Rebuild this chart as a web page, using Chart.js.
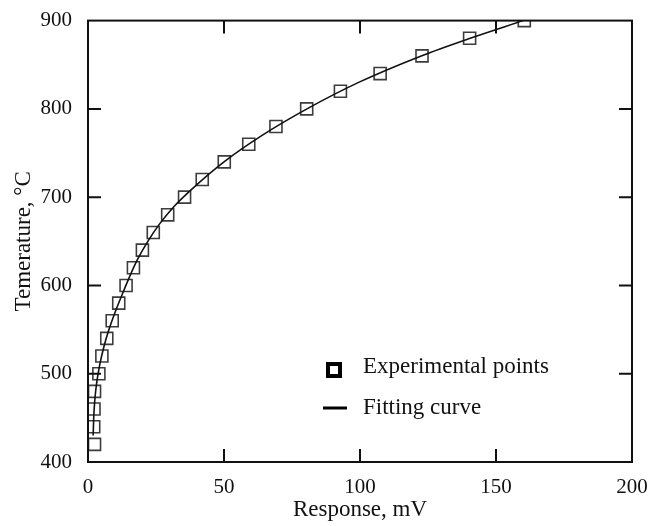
<!DOCTYPE html>
<html lang="en">
  <head>
    <meta charset="utf-8">
    <style>
      html, body { margin: 0; padding: 0; background: #fff; }
      #wrap { width: 668px; height: 526px; }
    </style>
  </head>
  <body>
    <div id="wrap">
      <canvas id="myChart" width="668" height="526"></canvas>
    </div>
    <script src="https://cdn.jsdelivr.net/npm/chart.js"></script>
    <script>
      // experimental points
      const pointTemps = [420, 440, 460, 480, 500, 520, 540, 560, 580, 600, 620, 640, 660, 680, 700, 720, 740, 760, 780, 800, 820, 840, 860, 880, 900];
      const pointMv = [2.4, 2.1, 2.2, 2.4, 4.0, 5.1, 6.9, 8.9, 11.3, 14.0, 16.7, 20.0, 24.0, 29.3, 35.5, 42.0, 50.1, 59.1, 69.1, 80.4, 92.8, 107.4, 122.8, 140.3, 160.4];

      // fitting curve
      const curveTemps = [430, 450, 470, 490, 510, 530, 550, 570, 590, 610, 630, 650, 670, 690, 710, 740, 770, 800, 830, 860, 880, 900];
      const curveMv = [1.9, 2.1, 2.5, 3.2, 4.3, 5.8, 7.7, 10.0, 12.6, 15.3, 18.3, 22.0, 26.4, 31.8, 38.5, 50.0, 64.0, 80.5, 99.5, 122.5, 140.5, 160.0];

      const xTicks = [0, 50, 100, 150, 200];
      const yTicks = [400, 500, 600, 700, 800, 900];

      const xTitle = 'Response, mV';
      const yTitle = 'Temerature, \u00B0C';
      const legendLabels = ['Experimental points', 'Fitting curve'];

      const serif = '"Liberation Serif", "DejaVu Serif", serif';

      const frameAndLegend = {
        id: 'frameAndLegend',
        afterDraw(chart) {
          const ctx = chart.ctx;
          const a = chart.chartArea;
          const xs = chart.scales.x;
          const ys = chart.scales.y;
          const tick = 13;
          ctx.save();
          ctx.strokeStyle = '#111';
          ctx.lineWidth = 2;
          ctx.strokeRect(a.left, a.top, a.right - a.left, a.bottom - a.top);
          ctx.beginPath();
          xTicks.slice(1, -1).forEach(v => {
            const px = xs.getPixelForValue(v);
            ctx.moveTo(px, a.bottom); ctx.lineTo(px, a.bottom - tick);
            ctx.moveTo(px, a.top); ctx.lineTo(px, a.top + tick);
          });
          yTicks.slice(1, -1).forEach(v => {
            const py = ys.getPixelForValue(v);
            ctx.moveTo(a.left, py); ctx.lineTo(a.left + tick, py);
            ctx.moveTo(a.right, py); ctx.lineTo(a.right - tick, py);
          });
          ctx.stroke();

          // legend inside the plot
          ctx.strokeStyle = '#000';
          ctx.lineWidth = 4;
          ctx.strokeRect(328, 364, 12, 12);
          ctx.lineWidth = 3;
          ctx.beginPath();
          ctx.moveTo(323, 408); ctx.lineTo(347, 408);
          ctx.stroke();
          ctx.fillStyle = '#111';
          ctx.font = '23px ' + serif;
          ctx.textBaseline = 'middle';
          ctx.fillText(legendLabels[0], 363, 367);
          ctx.fillText(legendLabels[1], 363, 408);
          ctx.restore();
        }
      };

      const data = {
        datasets: [
          {
            label: legendLabels[0],
            type: 'scatter',
            data: pointMv.map((v, i) => ({ x: v, y: pointTemps[i] })),
            pointStyle: 'rect',
            pointRadius: 8.5,
            pointBorderWidth: 1.6,
            borderColor: '#3c3c3c',
            backgroundColor: 'rgba(0,0,0,0)',
            showLine: false,
            order: 2
          },
          {
            label: legendLabels[1],
            type: 'line',
            data: curveMv.map((v, i) => ({ x: v, y: curveTemps[i] })),
            borderColor: '#111',
            borderWidth: 1.6,
            pointRadius: 0,
            fill: false,
            cubicInterpolationMode: 'monotone',
            order: 1
          }
        ]
      };

      const config = {
        type: 'scatter',
        data: data,
        plugins: [frameAndLegend],
        options: {
          responsive: false,
          animation: false,
          layout: { padding: { top: 15, right: 36, left: 0, bottom: 0 } },
          plugins: {
            legend: { display: false },
            tooltip: { enabled: false }
          },
          scales: {
            x: {
              type: 'linear',
              min: 0,
              max: 200,
              afterFit: s => { s.height = 64; },
              afterBuildTicks: s => { s.ticks = xTicks.map(v => ({ value: v })); },
              grid: { display: false },
              border: { display: false },
              ticks: { color: '#111', padding: 5, font: { family: serif, size: 21 }, maxRotation: 0 },
              title: { display: true, text: xTitle, color: '#111', font: { family: serif, size: 23 }, padding: { top: 0, bottom: 2 } }
            },
            y: {
              type: 'linear',
              min: 400,
              max: 900,
              afterFit: s => { s.width = 88; },
              afterBuildTicks: s => { s.ticks = yTicks.map(v => ({ value: v })); },
              grid: { display: false },
              border: { display: false },
              ticks: { color: '#111', padding: 8, font: { family: serif, size: 21 } },
              title: { display: true, text: yTitle, color: '#111', font: { family: serif, size: 23 }, padding: { top: 10, bottom: 0 } }
            }
          }
        }
      };

      const myChart = new Chart(document.getElementById('myChart'), config);
    </script>
  </body>
</html>
